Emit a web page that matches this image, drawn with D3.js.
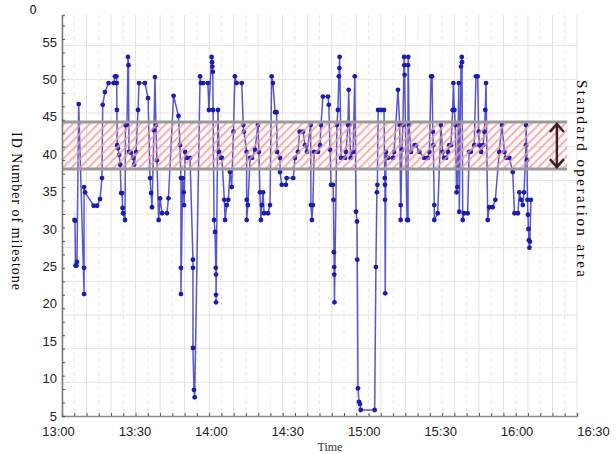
<!DOCTYPE html>
<html>
<head>
<meta charset="utf-8">
<script src="https://d3js.org/d3.v7.min.js"></script>
<style>
  body { margin: 0; background: #fff; }
  svg { display: block; }
</style>
</head>
<body>
<div id="chart"></div>
<script>
// minutes after 13:00 and milestone ID
var minutes = [5.1, 5.3, 5.5, 5.9, 6.1, 6.8, 9.0, 9.0, 9.0, 9.4, 12.9, 14.3, 15.5, 16.3, 16.6, 17.5, 19.0, 21.1, 21.6, 22.2,
  22.3, 22.4, 22.5, 22.8, 23.3, 23.7, 24.1, 24.5, 24.7, 24.9, 25.7, 25.9, 26.5, 26.9, 27.1, 27.3, 28.1, 29.0, 29.4, 30.2,
  31.0, 31.4, 33.8, 35.1, 35.9, 36.3, 36.7, 37.5, 37.9, 38.3, 38.7, 39.4, 40.0, 40.8, 42.8, 43.4, 45.5, 47.5, 48.1, 48.5,
  48.5, 48.5, 49.2, 49.6, 49.8, 50.2, 51.0, 52.2, 53.4, 53.4, 53.4, 53.8, 54.1, 56.3, 56.6, 57.5, 59.5, 59.9, 61.0, 61.2,
  61.3, 61.5, 61.6, 62.0, 62.4, 62.7, 62.8, 62.8, 62.8, 63.6, 64.0, 64.8, 65.2, 66.2, 66.5, 67.2, 67.8, 68.5, 69.2, 69.9,
  70.5, 71.2, 73.3, 73.9, 74.2, 75.3, 75.3, 75.3, 75.8, 76.7, 77.5, 78.7, 79.9, 80.3, 80.7, 81.1, 81.5, 82.0, 82.4, 84.0,
  84.8, 85.5, 86.0, 86.9, 87.5, 87.7, 88.9, 88.9, 89.6, 91.3, 91.6, 94.3, 95.0, 96.2, 96.9, 98.3, 99.1, 99.9, 101.4, 101.5,
  101.9, 102.3, 102.8, 104.4, 105.2, 105.6, 106.4, 108.5, 108.8, 109.3, 109.7, 110.5, 110.7, 110.9, 111.0, 111.0, 111.1, 112.1, 112.5, 112.9,
  113.1, 113.2, 113.8, 115.4, 115.8, 116.6, 116.9, 117.2, 117.7, 118.7, 119.4, 119.9, 120.3, 120.4, 120.7, 121.1, 121.5, 121.8, 127.5, 128.0,
  128.4, 128.6, 128.9, 130.1, 131.3, 131.6, 131.7, 131.7, 131.8, 132.1, 132.9, 135.0, 135.4, 137.0, 137.7, 138.1, 138.1, 138.6, 139.0, 139.5,
  139.6, 139.7, 140.7, 141.1, 141.1, 141.2, 141.5, 142.3, 143.8, 144.3, 145.7, 147.7, 149.2, 149.8, 150.5, 150.9, 151.2, 151.4, 151.8, 151.8,
  153.2, 154.5, 155.2, 155.8, 156.6, 157.4, 157.9, 158.6, 159.3, 159.6, 160.0, 160.4, 160.9, 161.2, 161.8, 162.0, 162.7, 163.0, 163.1, 163.4,
  163.9, 165.4, 166.0, 166.7, 168.1, 168.8, 169.5, 169.9, 170.2, 170.9, 171.7, 172.2, 172.6, 172.9, 173.6, 174.2, 175.6, 176.7, 178.3, 179.4,
  180.4, 181.0, 182.4, 183.8, 184.5, 185.9, 186.5, 187.2, 187.9, 188.4, 189.2, 189.2, 189.6, 189.8, 190.0, 190.2, 190.4, 190.6, 190.8, 191.2];
var ids = [31.2, 31.1, 25.1, 25.1, 25.6, 46.7, 21.3, 24.8, 35.6, 34.9, 33.1, 33.1, 34.0, 36.8, 46.6, 48.3, 49.5, 49.5, 50.4, 50.4,
  49.5, 45.9, 41.2, 40.8, 39.9, 38.6, 34.8, 34.8, 32.8, 32.1, 31.2, 43.9, 43.9, 53.0, 51.9, 40.3, 40.2, 39.5, 38.6, 40.3,
  45.9, 49.5, 49.5, 47.5, 36.8, 34.8, 32.9, 43.2, 50.3, 43.9, 39.2, 31.2, 34.1, 32.1, 32.1, 34.1, 47.8, 45.1, 41.2, 36.8,
  24.8, 21.3, 36.8, 34.9, 33.2, 40.3, 39.5, 39.5, 25.9, 24.8, 14.1, 8.5, 7.5, 50.4, 49.5, 49.5, 49.5, 45.9, 53.0, 52.3,
  51.7, 51.0, 45.9, 31.2, 29.6, 24.8, 23.9, 21.2, 20.2, 45.9, 40.3, 39.5, 39.5, 33.9, 31.2, 33.2, 33.9, 37.6, 35.6, 43.0,
  50.4, 49.5, 49.5, 43.9, 43.0, 40.3, 33.9, 31.2, 33.2, 39.5, 39.5, 40.6, 43.9, 40.3, 34.9, 31.2, 33.2, 34.9, 32.1, 32.1,
  33.2, 50.4, 49.5, 45.6, 45.6, 40.3, 39.5, 37.6, 35.9, 35.9, 36.8, 36.8, 39.5, 40.3, 43.0, 43.0, 41.2, 40.3, 43.9, 33.2,
  31.2, 33.2, 40.3, 40.3, 41.2, 43.9, 47.7, 47.7, 46.6, 40.6, 35.9, 35.9, 33.9, 26.9, 24.9, 23.9, 20.2, 43.9, 45.9, 50.4,
  51.5, 53.0, 39.5, 39.5, 40.3, 43.9, 48.6, 43.9, 39.5, 40.3, 50.4, 32.3, 31.0, 25.9, 8.7, 6.9, 6.6, 5.8, 5.8, 24.9,
  34.9, 35.9, 45.9, 45.9, 45.9, 36.8, 35.9, 33.9, 21.4, 40.3, 39.5, 39.5, 40.3, 48.6, 43.9, 33.2, 31.2, 40.6, 43.9, 53.0,
  51.9, 50.6, 31.2, 31.2, 51.9, 53.0, 43.9, 40.3, 41.2, 41.2, 40.3, 39.5, 39.5, 40.3, 50.4, 50.4, 43.0, 41.2, 33.2, 31.2,
  32.1, 43.9, 40.3, 39.5, 39.5, 40.3, 41.2, 41.2, 45.9, 49.5, 45.9, 43.9, 34.9, 35.6, 49.5, 32.3, 51.7, 53.0, 52.3, 31.2,
  32.1, 32.1, 40.3, 40.3, 41.2, 50.4, 50.4, 43.0, 41.2, 40.3, 41.2, 43.0, 45.9, 49.5, 31.2, 32.9, 32.9, 33.9, 40.3, 43.9,
  40.3, 39.5, 39.5, 37.6, 32.1, 32.1, 34.9, 33.9, 33.2, 34.9, 41.2, 43.9, 39.2, 33.9, 31.9, 30.0, 28.5, 27.5, 28.3, 33.9];

var xTicks = ["13:00", "13:30", "14:00", "14:30", "15:00", "15:30", "16:00", "16:30"];
var yTicks = [5, 10, 15, 20, 25, 30, 35, 40, 45, 50, 55];
var gridY = [9.5, 14, 18.5, 23, 27.5, 32, 36.5, 41, 45.5, 50, 54.5];
var bandTop = 44.3, bandBottom = 38.0;

var width = 616, height = 454;

var svg = d3.select("#chart")
  .append("svg")
    .attr("width", width)
    .attr("height", height);

var parse = d3.timeParse("%H:%M");
var t0 = parse("13:00");
function at(m) { return new Date(t0.getTime() + m * 60000); }

var data = minutes.map(function(m, i) { return {t: at(m), v: ids[i]}; });

var x = d3.scaleTime()
  .domain([parse("13:00"), parse("16:30")])
  .range([62, 577]);
// the time labels sit a little wider apart than the ticks
var xLab = d3.scaleTime()
  .domain(x.domain())
  .range([58, 593]);
var y = d3.scaleLinear()
  .domain([5, 58.6])
  .range([416, 15]);

// hatch for the standard band
var defs = svg.append("defs");
defs.append("pattern")
    .attr("id", "hatch")
    .attr("patternUnits", "userSpaceOnUse")
    .attr("width", 6)
    .attr("height", 6)
    .attr("patternTransform", "rotate(45)")
  .append("rect")
    .attr("x", 0).attr("y", 0)
    .attr("width", 2.2).attr("height", 6)
    .attr("fill", "#f59a9a");

// grid
var fiveMin = d3.timeMinute.every(5).range(x.domain()[0], d3.timeMinute.offset(x.domain()[1], 1));
svg.append("g").selectAll("line")
  .data(fiveMin)
  .enter().append("line")
    .attr("x1", d => x(d)).attr("x2", d => x(d))
    .attr("y1", 15).attr("y2", 416)
    .attr("stroke", d => d.getMinutes() % 10 == 0 ? "#e8dfe4" : "#ede7eb")
    .attr("stroke-dasharray", d => d.getMinutes() % 10 == 0 ? null : "4,3")
    .attr("stroke-width", 1);

svg.append("g").selectAll("line")
  .data(gridY)
  .enter().append("line")
    .attr("x1", 62).attr("x2", 577)
    .attr("y1", d => y(d)).attr("y2", d => y(d))
    .attr("stroke", "#e8e0e4")
    .attr("stroke-width", 1);

// data line
svg.append("path")
  .datum(data)
  .attr("fill", "none")
  .attr("stroke", "#3a3ac4")
  .attr("stroke-width", 1.5)
  .attr("stroke-opacity", 0.85)
  .attr("d", d3.line()
    .x(d => x(d.t))
    .y(d => y(d.v)));

svg.append("g").selectAll("circle")
  .data(data)
  .enter().append("circle")
    .attr("cx", d => x(d.t))
    .attr("cy", d => y(d.v))
    .attr("r", 2.4)
    .attr("fill", "#1c1cb0");

// standard operation band, drawn over the line
var bandEnd = at(206);
svg.append("rect")
  .attr("x", x(t0))
  .attr("y", y(bandTop))
  .attr("width", x(bandEnd) - x(t0))
  .attr("height", y(bandBottom) - y(bandTop))
  .attr("fill", "url(#hatch)")
  .attr("opacity", 0.75);

svg.append("g").selectAll("line")
  .data([bandTop, bandBottom])
  .enter().append("line")
    .attr("x1", x(t0)).attr("x2", x(bandEnd))
    .attr("y1", d => y(d)).attr("y2", d => y(d))
    .attr("stroke", "#9a9a9a")
    .attr("stroke-width", 3);

// double arrow
var ax = x(at(201.8)), aTop = y(bandTop) + 2, aBot = y(bandBottom) - 2;
var arrow = svg.append("g")
  .attr("stroke", "#3b2020")
  .attr("stroke-width", 2.5)
  .attr("fill", "none");
arrow.append("line").attr("x1", ax).attr("x2", ax).attr("y1", aTop).attr("y2", aBot);
arrow.append("polyline").attr("points", [[ax - 7, aTop + 8], [ax, aTop], [ax + 7, aTop + 8]].join(" "));
arrow.append("polyline").attr("points", [[ax - 7, aBot - 8], [ax, aBot], [ax + 7, aBot - 8]].join(" "));

// axes
var xAxis = svg.append("g")
  .attr("transform", "translate(0,416)")
  .call(d3.axisBottom(x).ticks(d3.timeMinute.every(5)).tickSize(-3).tickFormat(""));
xAxis.select(".domain").attr("stroke", "#888").attr("stroke-width", 1.5);
xAxis.selectAll(".tick line").attr("stroke", "#555");

svg.append("g")
  .attr("transform", "translate(0,416)")
  .call(d3.axisBottom(xLab).tickValues(xTicks.map(parse)).tickSize(0).tickPadding(11)
    .tickFormat(d3.timeFormat("%H:%M")))
  .call(g => g.select(".domain").remove())
  .selectAll("text")
    .style("font-family", "Liberation Sans, Arial, sans-serif")
    .style("font-size", "13px")
    .attr("fill", "#222");

var yAxis = svg.append("g")
  .attr("transform", "translate(62,0)")
  .call(d3.axisLeft(y).tickValues(d3.range(5, 58.6, 1.8)).tickSize(-3).tickFormat(""));
yAxis.select(".domain").attr("stroke", "#777").attr("stroke-width", 1.5);
yAxis.selectAll(".tick line").attr("stroke", "#555");

svg.append("g")
  .attr("transform", "translate(62,0)")
  .call(d3.axisLeft(y).tickValues(yTicks).tickSize(0).tickPadding(5))
  .call(g => g.select(".domain").remove())
  .selectAll("text")
    .style("font-family", "Liberation Sans, Arial, sans-serif")
    .style("font-size", "13px")
    .attr("fill", "#222");

svg.append("text")
  .attr("x", 33).attr("y", 14)
  .attr("text-anchor", "middle")
  .style("font-family", "Liberation Sans, Arial, sans-serif")
  .style("font-size", "12px")
  .text("0");

// labels
svg.append("text")
  .attr("transform", "translate(12,132) rotate(90)")
  .attr("textLength", 158)
  .attr("lengthAdjust", "spacing")
  .style("font-family", "Liberation Serif, serif")
  .style("font-size", "14px")
  .text("ID Number of milestone");

svg.append("text")
  .attr("transform", "translate(577,80) rotate(90)")
  .attr("textLength", 197)
  .attr("lengthAdjust", "spacing")
  .style("font-family", "Liberation Serif, serif")
  .style("font-size", "15px")
  .text("Standard operation area");

svg.append("text")
  .attr("x", 330).attr("y", 451)
  .attr("text-anchor", "middle")
  .style("font-family", "Liberation Serif, serif")
  .style("font-size", "12px")
  .attr("fill", "#333")
  .text("Time");
</script>
</body>
</html>
